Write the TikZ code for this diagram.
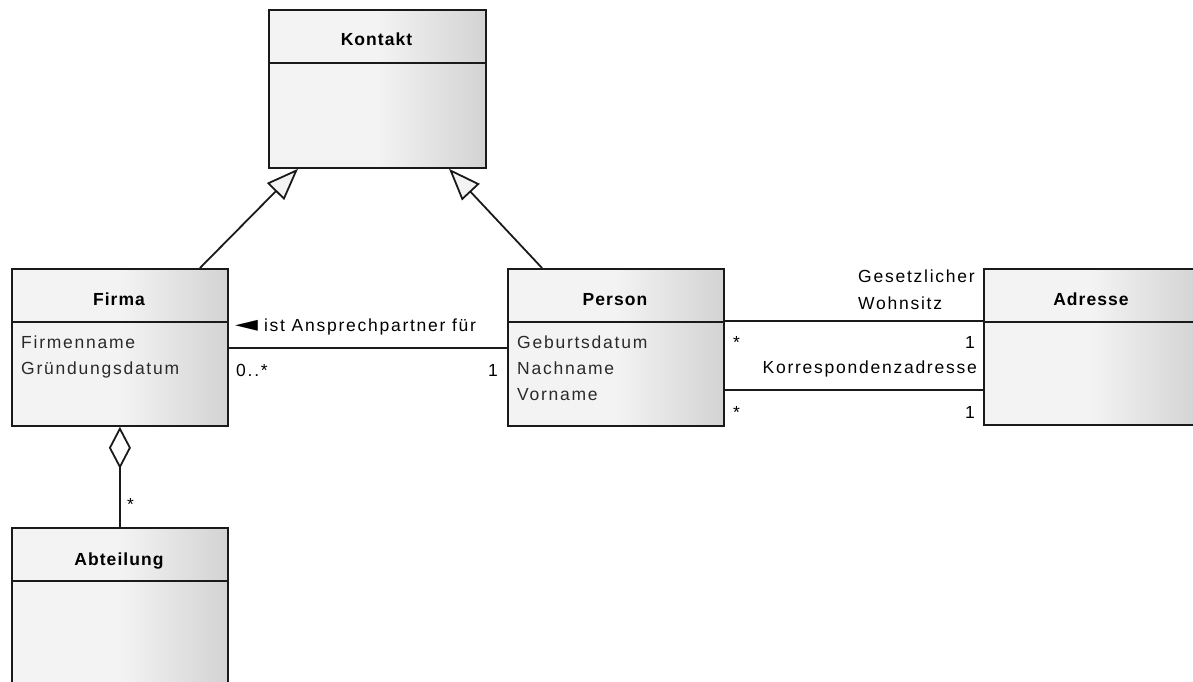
\documentclass[tikz,border=0pt]{standalone}
\usepackage{fontspec}
\usepackage{graphicx}
\setmainfont{Liberation Sans}[LetterSpace=10, BoldFeatures={LetterSpace=6}]
\newfontfamily\symfont{DejaVu Sans}
\usetikzlibrary{arrows.meta}
\definecolor{lite}{HTML}{F3F3F3}
\definecolor{dark}{HTML}{D3D3D3}
\definecolor{ink}{HTML}{1A1A1A}
\definecolor{txt}{HTML}{2A2A2A}
\pgfdeclarehorizontalshading{umlshade}{100bp}{color(0bp)=(lite); color(25bp)=(lite); color(50bp)=(lite); color(75bp)=(dark); color(100bp)=(dark)}
\tikzset{
  cls/.style={draw=ink, line width=1.8pt, shading=umlshade, rectangle, inner sep=0pt, minimum width=216pt, anchor=north west},
  ttl/.style={font=\fontsize{17.5}{21}\selectfont\bfseries, anchor=base, inner sep=0pt, text=black},
  att/.style={font=\fontsize{17.5}{21}\selectfont, anchor=base west, inner sep=0pt, text=txt},
  lbl/.style={font=\fontsize{17.5}{21}\selectfont, inner sep=0pt, text=black},
  conn/.style={draw=ink, line width=1.8pt},
  divider/.style={draw=ink, line width=1.8pt},
}
\begin{document}
\begin{tikzpicture}[x=1pt,y=-1pt]
\useasboundingbox (0,0) rectangle (1193,682);
\clip (0,0) rectangle (1193,682);
% classes
\node[cls, minimum width=217pt, minimum height=158pt] (kontakt) at (268,9) {};
\node[cls, minimum height=157pt] (firma) at (11,268) {};
\node[cls, minimum height=157pt] (person) at (507,268) {};
\node[cls, minimum height=156pt] (adresse) at (983,268) {};
\node[cls, minimum height=180pt] (abteilung) at (11,527) {};
% dividers
\foreach \c in {kontakt,firma,person,adresse,abteilung}
  \draw[divider] ([yshift=-54pt]\c.north west) -- ([yshift=-54pt]\c.north east);
% titles
\node[ttl] (kontaktT) at (376.5,46) {Kontakt};
\node[ttl] (firmaT) at (119,305) {Firma};
\node[ttl] (personT) at (615,305) {Person};
\node[ttl] (adresseT) at (1091,305) {Adresse};
\node[ttl] (abteilungT) at (119,565) {Abteilung};
% attributes
\node[att] (fa1) at (21,348) {Firmenname};
\node[att] (fa2) at (21,374) {Gründungsdatum};
\node[att] (pa1) at (517,348) {Geburtsdatum};
\node[att] (pa2) at (517,374) {Nachname};
\node[att] (pa3) at (517,400) {Vorname};
% generalizations
\draw[conn, -{Triangle[length=32pt,width=24pt,fill=lite]}] ([xshift=189pt]firma.north west) -- ([xshift=30pt]kontakt.south west);
\draw[conn, -{Triangle[length=32pt,width=24pt,fill=lite]}] ([xshift=35pt]person.north west) -- ([xshift=181pt]kontakt.south west);
% association Firma - Person
\draw[conn] ([yshift=-80pt]firma.north east) -- ([yshift=-80pt]person.north west);
\node[lbl, anchor=base west] (assocL) at (235,331) {{\symfont\fontsize{22}{22}\selectfont\scalebox{1.35}[1]{◄}}\hspace{6pt}ist Ansprechpartner für};
\node[lbl, anchor=base west] (m1) at (236,376) {0..*};
\node[lbl, anchor=base east] (m2) at (498,376) {1};
% associations Person - Adresse
\draw[conn] ([yshift=-53pt]person.north east) -- ([yshift=-53pt]adresse.north west);
\draw[conn] ([yshift=-122pt]person.north east) -- ([yshift=-122pt]adresse.north west);
\node[lbl, anchor=base west] (gw1) at (858,282) {Gesetzlicher};
\node[lbl, anchor=base west] (gw2) at (858,309) {Wohnsitz};
\node[lbl, anchor=base west] (s1) at (733,348) {*};
\node[lbl, anchor=base east] (o1) at (975,348) {1};
\node[lbl, anchor=base east] (kz) at (977,373) {Korrespondenzadresse};
\node[lbl, anchor=base west] (s2) at (733,418) {*};
\node[lbl, anchor=base east] (o2) at (975,418) {1};
% aggregation
\draw[conn, {Diamond[length=42pt,width=22pt,fill=white]}-] (firma.south) -- (abteilung.north);
\node[lbl, anchor=base west] (s3) at (127,510) {*};
\end{tikzpicture}
\end{document}
